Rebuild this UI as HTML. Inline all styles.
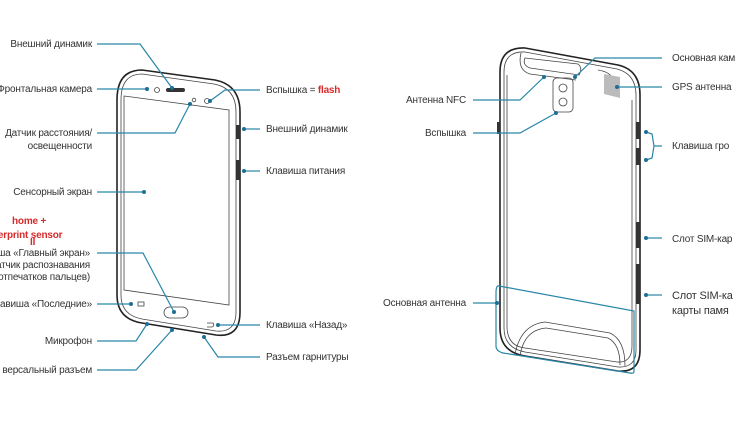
<!DOCTYPE html>
<html><head><meta charset="utf-8"><style>
html,body{margin:0;padding:0;background:#fff;}
svg{display:block}
text{font-family:"Liberation Sans","DejaVu Sans",sans-serif;font-size:10px;fill:#333;letter-spacing:-0.2px}
.e{text-anchor:end}
.r{fill:#d62b2b;font-weight:bold}
.l{stroke:#2a86a8;stroke-width:1.2;fill:none}
.d{fill:#1d6f95}
.p{stroke:#222;stroke-width:1.6;fill:none}
.t{stroke:#444;stroke-width:0.8;fill:none}
</style></head><body>
<svg width="741" height="425" viewBox="0 0 741 425" xmlns="http://www.w3.org/2000/svg">
<!-- LEFT PHONE -->
<path class="p" d="M117,100 Q117,70 142,70 L215,80 Q240,85 240,112 L240,312 Q240,338 216,335 L142,323 Q117,319 117,295 Z"/>
<path class="t" d="M121,100 Q121,74 142,74 L214,84 Q236,88 236,112 L236,312 Q236,333 216,331 L142,319 Q121,315 121,295 Z"/>
<path class="t" d="M124,96 L229,110 L229,305 L124,290 Z"/>
<rect x="236" y="125" width="4" height="14" fill="#333"/>
<rect x="236" y="160" width="4" height="20" fill="#333"/>
<circle cx="157" cy="90" r="2.5" class="t"/>
<rect x="166" y="88" width="19" height="4" rx="2" fill="#333"/>
<circle cx="194" cy="100" r="1.8" class="t"/>
<circle cx="207" cy="101" r="2.5" class="t"/>
<rect x="164" y="307" width="24" height="11" rx="5.5" class="t"/>
<rect x="138" y="302" width="6" height="4" class="t"/>
<path class="t" d="M207,323 L213,323 Q215,326 212,327 L207,327"/>
<!-- left labels & leaders -->
<path class="l" d="M97,44 L140,44 L172,88"/><circle class="d" cx="172" cy="88" r="2"/>
<text class="e" x="92" y="47">Внешний динамик</text>
<path class="l" d="M97,89 L147,89"/><circle class="d" cx="147" cy="89" r="2"/>
<text class="e" x="92" y="92">Фронтальная камера</text>
<path class="l" d="M97,133 L175,133 L190,104"/><circle class="d" cx="190" cy="104" r="2"/>
<text class="e" x="92" y="136">Датчик расстояния/</text>
<text class="e" x="92" y="149">освещенности</text>
<path class="l" d="M97,192 L144,192"/><circle class="d" cx="144" cy="192" r="2"/>
<text class="e" x="92" y="195">Сенсорный экран</text>
<text class="r" x="12" y="224">home +</text>
<text class="r" x="-8" y="238">gerprint sensor</text>
<text class="r" x="30" y="245">II</text>
<path class="l" d="M97,253 L143,253 L174,312"/><circle class="d" cx="174" cy="312" r="2"/>
<text class="e" x="90" y="256">лавиша «Главный экран»</text>
<text class="e" x="90" y="268">атчик распознавания</text>
<text class="e" x="90" y="280">отпечатков пальцев)</text>
<path class="l" d="M97,304 L131,304"/><circle class="d" cx="131" cy="304" r="2"/>
<text class="e" x="92" y="307">Клавиша «Последние»</text>
<path class="l" d="M97,341 L136,341 L147,324"/><circle class="d" cx="147" cy="324" r="2"/>
<text class="e" x="92" y="344">Микрофон</text>
<path class="l" d="M97,370 L136,370 L172,330"/><circle class="d" cx="172" cy="330" r="2"/>
<text class="e" x="92" y="373">версальный разъем</text>
<!-- right of left phone -->
<path class="l" d="M210,101 L225,90 L260,90"/><circle class="d" cx="210" cy="101" r="2"/>
<text x="266" y="93">Вспышка = <tspan class="r">flash</tspan></text>
<path class="l" d="M244,129 L260,129"/><circle class="d" cx="244" cy="129" r="2"/>
<text x="266" y="132">Внешний динамик</text>
<path class="l" d="M244,171 L260,171"/><circle class="d" cx="244" cy="171" r="2"/>
<text x="266" y="174">Клавиша питания</text>
<path class="l" d="M218,325 L260,325"/><circle class="d" cx="218" cy="325" r="2"/>
<text x="266" y="328">Клавиша «Назад»</text>
<path class="l" d="M204,337 L218,357 L260,357"/><circle class="d" cx="204" cy="337" r="2"/>
<text x="266" y="360">Разъем гарнитуры</text>
<!-- RIGHT PHONE -->
<path class="p" d="M500,72 Q500,47 525,48 L618,65 Q640,70 640,95 L640,350 Q640,373 618,371 L525,356 Q500,352 500,328 Z"/>
<path class="t" d="M504,72 Q504,51 525,52 L617,69 Q636,74 636,95 L636,350 Q636,368 618,367 L525,352 Q504,348 504,328 Z"/>
<path class="t" d="M507,75 L507,326 Q507,346 525,348 L617,362 Q632,363 632,346 L632,100"/>
<path class="t" d="M525,58 L578,64 Q583,68 579,75 L530,68 Q522,65 525,58 Z"/>
<path class="t" d="M521,53 Q517,70 530,74 L576,80"/>
<path class="t" d="M598,70 Q610,72 612,78"/>
<rect x="553" y="78" width="20" height="34" rx="4" class="t"/>
<circle cx="563" cy="88" r="4" class="t"/>
<circle cx="563" cy="102" r="4" class="t"/>
<polygon points="604,74 620,77 620,98 604,94" fill="#bbb"/>
<path class="t" d="M515,355 Q520,325 545,322 L610,333 Q625,340 625,366"/>
<path class="t" d="M520,356 Q524,330 546,328 L608,338 Q620,344 620,365"/>
<rect x="636" y="122" width="4" height="17" fill="#333"/>
<rect x="636" y="148" width="4" height="17" fill="#333"/>
<rect x="636" y="222" width="4" height="26" fill="#333"/>
<rect x="636" y="264" width="4" height="40" fill="#333"/>
<rect x="497" y="122" width="3" height="12" fill="#333"/>
<path class="l" d="M499,286 L634,311 L634,371 Q634,374 630,373 L503,353 Q496,351 496,346 L496,293 Q496,285 499,286 Z"/>
<!-- right labels -->
<path class="l" d="M575,77 L595,58 L662,58"/><circle class="d" cx="575" cy="77" r="2"/>
<text x="672" y="61">Основная кам</text>
<path class="l" d="M617,87 L662,87"/><circle class="d" cx="617" cy="87" r="2"/>
<text x="672" y="90">GPS антенна</text>
<path class="l" d="M473,100 L520,100 L544,77"/><circle class="d" cx="544" cy="77" r="2"/>
<text class="e" x="466" y="103">Антенна NFC</text>
<path class="l" d="M473,133 L520,133 L556,113"/><circle class="d" cx="556" cy="113" r="2"/>
<text class="e" x="466" y="136">Вспышка</text>
<path class="l" d="M646,132 L652,134 L654,146 L662,146 M654,146 L652,158 L646,160"/>
<circle class="d" cx="646" cy="132" r="2"/><circle class="d" cx="646" cy="160" r="2"/>
<text x="672" y="149">Клавиша гро</text>
<path class="l" d="M646,238 L662,238"/><circle class="d" cx="646" cy="238" r="2"/>
<text x="672" y="242">Слот SIM-кар</text>
<path class="l" d="M646,295 L662,295"/><circle class="d" cx="646" cy="295" r="2"/>
<text x="672" y="299" style="font-size:11px">Слот SIM-ка</text>
<text x="672" y="314" style="font-size:11px">карты памя</text>
<path class="l" d="M473,303 L497,303"/><circle class="d" cx="497" cy="303" r="2"/>
<text class="e" x="466" y="306">Основная антенна</text>
</svg>
</body></html>
